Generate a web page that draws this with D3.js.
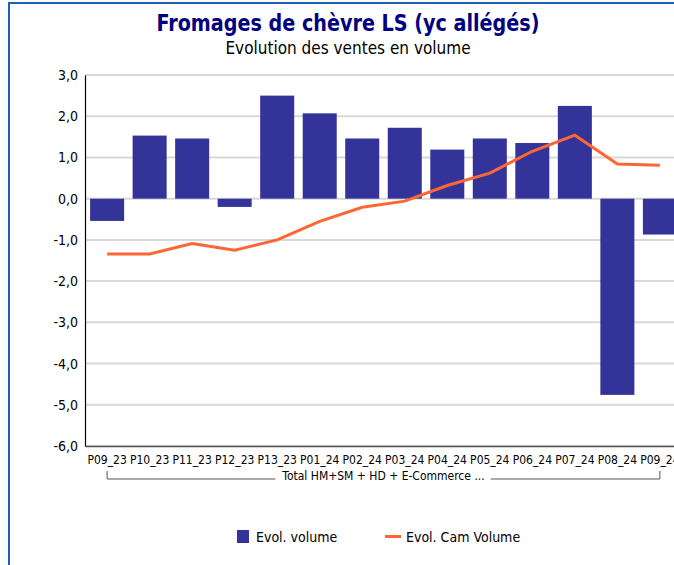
<!DOCTYPE html>
<html>
<head>
<meta charset="utf-8">
<script src="https://cdn.jsdelivr.net/npm/d3@7"></script>
<style>
  body { margin: 0; background: #fff; overflow: hidden; }
  text { font-family: "DejaVu Sans Condensed", "DejaVu Sans", sans-serif; }
</style>
</head>
<body>
<div id="graph"></div>
<script>
var categories = ["P09_23", "P10_23", "P11_23", "P12_23", "P13_23", "P01_24", "P02_24",
                  "P03_24", "P04_24", "P05_24", "P06_24", "P07_24", "P08_24", "P09_24"];
var evolVolume = [-0.54, 1.53, 1.46, -0.2, 2.5, 2.07, 1.46, 1.72, 1.19, 1.46, 1.35, 2.25, -4.76, -0.87];
var evolCam = [-1.34, -1.34, -1.09, -1.25, -1.0, -0.55, -0.21, -0.06, 0.32, 0.62, 1.15, 1.54, 0.84, 0.81];
var yTicks = [3, 2, 1, 0, -1, -2, -3, -4, -5, -6];
var groupLabel = "Total HM+SM + HD + E-Commerce ...";
var seriesNames = ["Evol. volume", "Evol. Cam Volume"];

var width = 674, height = 565;
var plot = {left: 85, right: 682, top: 75, bottom: 446};
var fontFam = "'DejaVu Sans Condensed', 'DejaVu Sans', sans-serif";

var svg = d3.select("#graph").append("svg")
    .attr("width", width)
    .attr("height", height);

// frame (right / bottom edges fall outside the window)
svg.append("rect")
    .attr("x", 9).attr("y", 3)
    .attr("width", 700).attr("height", 600)
    .attr("fill", "none")
    .attr("stroke", "#1e63b0")
    .attr("stroke-width", 2);

var x = d3.scaleBand()
    .domain(categories)
    .range([plot.left, plot.right])
    .paddingInner(0.2)
    .paddingOuter(0.12);

var y = d3.scaleLinear()
    .domain([-6, 3])
    .range([plot.bottom, plot.top]);

// gridlines
svg.append("g").selectAll("line")
    .data(yTicks)
  .enter().append("line")
    .attr("x1", plot.left).attr("x2", plot.right)
    .attr("y1", function(d) { return y(d); })
    .attr("y2", function(d) { return y(d); })
    .attr("stroke", "#d9d9d9")
    .attr("stroke-width", 2);

// bars
svg.append("g").selectAll("rect")
    .data(evolVolume)
  .enter().append("rect")
    .attr("x", function(d, i) { return x(categories[i]); })
    .attr("width", x.bandwidth())
    .attr("y", function(d) { return y(Math.max(0, d)); })
    .attr("height", function(d) { return Math.abs(y(d) - y(0)); })
    .attr("fill", "#333399");

// line
var line = d3.line()
    .x(function(d, i) { return x(categories[i]) + x.bandwidth() / 2; })
    .y(function(d) { return y(d); });

svg.append("path")
    .datum(evolCam)
    .attr("d", line)
    .attr("fill", "none")
    .attr("stroke", "#ff6633")
    .attr("stroke-width", 3);

// y axis
var yAxis = svg.append("g")
    .attr("transform", "translate(" + plot.left + ",0)")
    .call(d3.axisLeft(y).tickValues(yTicks).tickSize(0).tickPadding(7)
          .tickFormat(function(d) { return d3.format(".1f")(d).replace(".", ",").replace("−", "-"); }));
yAxis.attr("font-family", fontFam).attr("font-size", 14);
yAxis.select(".domain").attr("stroke", "#000").attr("stroke-width", 1.2);
yAxis.selectAll("text").attr("fill", "#000");

// x axis
var xAxis = svg.append("g")
    .attr("transform", "translate(0," + plot.bottom + ")")
    .call(d3.axisBottom(x).tickSize(0).tickPadding(9));
xAxis.attr("font-family", fontFam).attr("font-size", 12);
xAxis.select(".domain").attr("stroke", "#555").attr("stroke-width", 1.5);
xAxis.selectAll("text").attr("fill", "#000");

// group bracket
var gx0 = x(categories[0]) + x.bandwidth() / 2,
    gx1 = x(categories[categories.length - 1]) + x.bandwidth() / 2,
    gy = 479;
var bracket = svg.append("g");
bracket.append("path")
    .attr("d", "M" + gx0 + "," + (gy - 8) + "V" + gy + "H" + gx1 + "V" + (gy - 8))
    .attr("fill", "none")
    .attr("stroke", "#555")
    .attr("stroke-width", 1);
var gbg = bracket.append("rect").attr("fill", "#fff");
var gl = bracket.append("text")
    .attr("x", (gx0 + gx1) / 2)
    .attr("y", gy + 1)
    .attr("text-anchor", "middle")
    .attr("font-size", 12)
    .text(groupLabel);
var bb = gl.node().getBBox();
gbg.attr("x", bb.x - 6).attr("y", gy - 2)
    .attr("width", bb.width + 12).attr("height", 4);

// titles
svg.append("text")
    .attr("x", 348).attr("y", 31)
    .attr("text-anchor", "middle")
    .attr("font-size", 23)
    .attr("font-weight", "bold")
    .attr("fill", "#000080")
    .attr("textLength", 383)
    .attr("lengthAdjust", "spacingAndGlyphs")
    .text("Fromages de chèvre LS (yc allégés)");
svg.append("text")
    .attr("x", 348).attr("y", 54)
    .attr("text-anchor", "middle")
    .attr("font-size", 17)
    .attr("fill", "#000")
    .text("Evolution des ventes en volume");

// legend
var legend = svg.append("g");
legend.append("rect")
    .attr("x", 237).attr("y", 530).attr("width", 12).attr("height", 13)
    .attr("fill", "#333399");
legend.append("text")
    .attr("x", 256).attr("y", 542).attr("font-size", 14)
    .text(seriesNames[0]);
legend.append("line")
    .attr("x1", 385).attr("x2", 401).attr("y1", 536.5).attr("y2", 536.5)
    .attr("stroke", "#ff6633").attr("stroke-width", 3);
legend.append("text")
    .attr("x", 406).attr("y", 542).attr("font-size", 14)
    .text(seriesNames[1]);
</script>
</body>
</html>
